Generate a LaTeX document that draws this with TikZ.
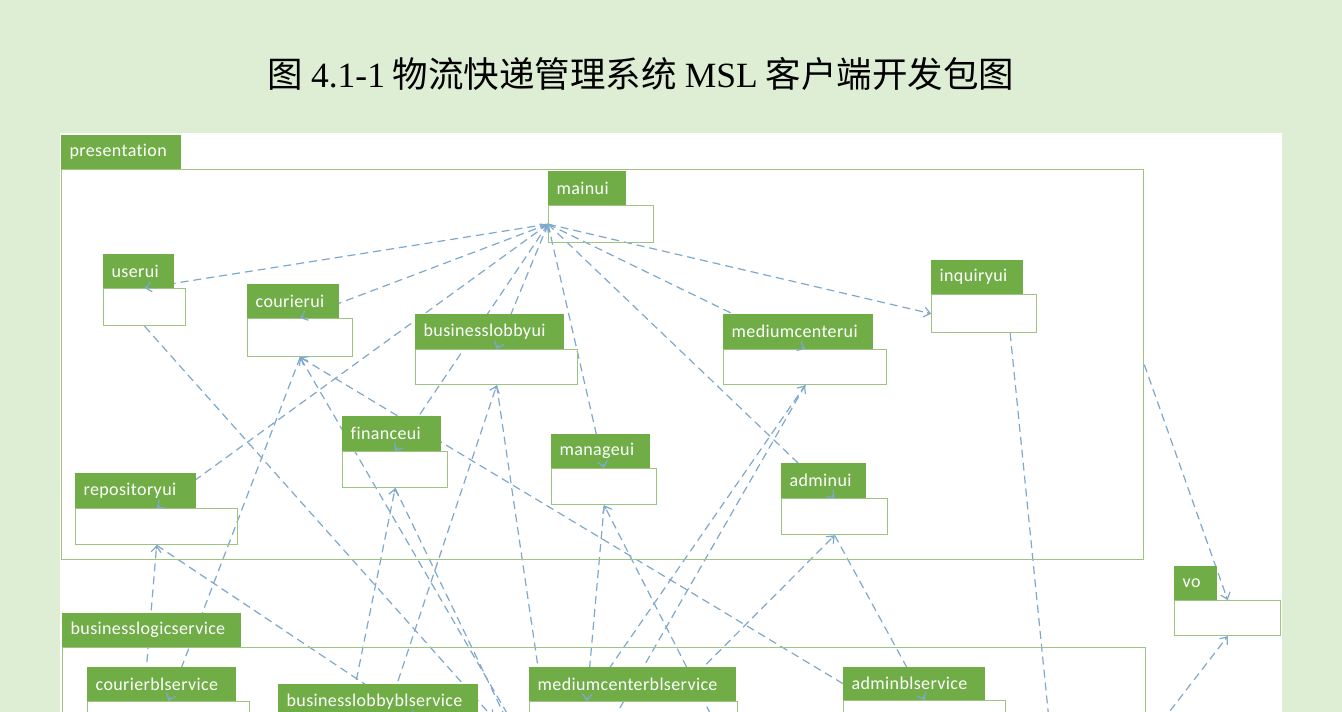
\documentclass[tikz,border=0pt]{standalone}
\usepackage{fontspec}
\setsansfont{Carlito}[Ligatures=NoCommon,LetterSpace=2]
\newfontfamily\cjk{Noto Sans CJK SC}
\newfontfamily\titlelatin{Liberation Serif}
\usetikzlibrary{calc,arrows.meta}
\pgfdeclarelayer{panel}
\pgfdeclarelayer{lines}
\pgfdeclarelayer{tips}
\pgfsetlayers{panel,lines,main,tips}
\definecolor{bggreen}{RGB}{222,238,213}
\definecolor{tabgreen}{RGB}{112,173,71}
\definecolor{boxgreen}{RGB}{158,197,128}
\definecolor{depblue}{RGB}{126,168,206}
\tikzset{
  tab/.style={fill=tabgreen, text=white, font=\sffamily\fontsize{18}{18}\selectfont,
    anchor=north west, inner xsep=9.5pt, inner ysep=0pt, align=left},
  pkgbox/.style={draw=boxgreen, line width=1.3pt, anchor=north west, inner sep=0pt},
  depline/.style={draw=depblue, line width=1.2pt, dash pattern=on 8pt off 5pt},
  deptip/.style={draw=depblue, line width=1.2pt, -{Straight Barb[length=6pt,width=10pt]}},
}
% name, label, x1, y1, tab right, tab bottom, box right, box bottom
\newcommand\umlpkg[8]{%
  \pgfmathsetmacro\pkgtw{#5-#3-17}%
  \pgfmathsetmacro\pkgth{#6-#4}%
  \pgfmathsetmacro\pkgbw{#7-#3}%
  \pgfmathsetmacro\pkgbh{#8-#6}%
  \node[tab, text width=\pkgtw pt, minimum height=\pkgth pt, inner xsep=8.5pt] (#1tab) at (#3,#4) {#2};
  \node[pkgbox, minimum width=\pkgbw pt, minimum height=\pkgbh pt] (#1) at (#3,#6) {};}
\newcommand\pkgdep[2]{%
  \begin{pgfonlayer}{lines}\draw[depline] (#1) -- (#2);\end{pgfonlayer}%
  \begin{pgfonlayer}{tips}\draw[deptip] ($(#2)!4pt!(#1)$) -- (#2);\end{pgfonlayer}}
\newcommand\pkgdepboth[2]{%
  \pkgdep{#1}{#2}%
  \begin{pgfonlayer}{tips}\draw[deptip] ($(#1)!4pt!(#2)$) -- (#1);\end{pgfonlayer}}
\newcommand\pkglink[2]{%
  \begin{pgfonlayer}{lines}\draw[depline] (#1) -- (#2);\end{pgfonlayer}}
\begin{document}
\begin{tikzpicture}[x=1pt,y=-1pt]
\useasboundingbox (0,0) rectangle (1342,712);
\begin{pgfonlayer}{panel}
  \fill[bggreen] (0,0) rectangle (1342,712);
  \fill[white] (60,133) rectangle (1282,712);
\end{pgfonlayer}

\node[font=\cjk\fontsize{35.5}{35.5}\selectfont] (title) at (641,74)
  {图 {\titlelatin 4.1-1} 物流快递管理系统 {\titlelatin MSL} 客户端开发包图};

% large packages
\umlpkg{pres}{presentation}{61}{135}{181}{169}{1143}{559}
\umlpkg{bls}{businesslogicservice}{62}{613}{241}{647}{1145}{835}

% packages
\umlpkg{mainui}{mainui}{548}{171}{626}{205}{653}{242}
\umlpkg{userui}{userui}{103}{254}{174}{288}{185}{325}
\umlpkg{courierui}{courierui}{247}{284}{339}{318}{352}{356}
\umlpkg{businesslobbyui}{businesslobbyui}{415}{314}{564}{349}{577}{384}
\umlpkg{mediumcenterui}{mediumcenterui}{723}{314}{873}{349}{886}{384}
\umlpkg{inquiryui}{inquiryui}{931}{260}{1023}{294}{1036}{332}
\umlpkg{financeui}{financeui}{342}{416}{441}{451}{447}{487}
\umlpkg{repositoryui}{repositoryui}{75}{473}{196}{508}{237}{544}
\umlpkg{manageui}{manageui}{551}{434}{650}{468}{656}{504}
\umlpkg{adminui}{adminui}{781}{463}{866}{498}{887}{534}
\umlpkg{vo}{vo}{1174}{566}{1217}{600}{1280}{635}
\umlpkg{courierbl}{courierblservice}{87}{667}{236}{701}{249}{738}
\umlpkg{businesslobbybl}{businesslobbyblservice}{278}{684}{478}{718}{492}{755}
\umlpkg{mediumcenterbl}{mediumcenterblservice}{529}{667}{736}{701}{737}{738}
\umlpkg{adminbl}{adminblservice}{843}{667}{985}{700}{1005}{737}

% connector ends
\coordinate (inqport) at ([xshift=26pt]inquiryui.south);
\coordinate (cblport) at ([xshift=-25pt]courierbl.north);
\coordinate (blportA) at ([xshift=-37pt]businesslobbybl.north);
\coordinate (blportB) at ([xshift=30pt]businesslobbybl.north);
\coordinate (mcblportA) at ([xshift=-47pt]mediumcenterbl.north);
\coordinate (mcblportB) at ([xshift=36pt]mediumcenterbl.north);
\coordinate (mcblportC) at ([xshift=9pt]mediumcenterbltab.north west);
\coordinate (offA) at (540,770);
\coordinate (offB) at (526,760);
\coordinate (offC) at (734,760);
\coordinate (offE) at (590,760);
\coordinate (offF) at (1053,760);

% from mainui
\pkgdep{mainui.west}{userui.north}
\pkgdep{mainui.west}{courierui.north}
\pkgdepboth{mainui.west}{repositoryui.north}
\pkgdepboth{mainui.west}{businesslobbyui.north}
\pkgdepboth{mainui.west}{financeui.north}
\pkgdep{mainui.west}{manageui.north}
\pkgdep{mainui.west}{adminui.north}
\pkgdep{mainui.west}{mediumcenterui.north}
\pkgdep{mainui.west}{inquiryui.west}

% between layers
\pkgdep{userui.south}{businesslobbybl.north east}
\pkgdep{courierui.south}{courierbl.north}
\pkgdep{adminbltab.west}{courierui.south}
\pkgdep{offA}{courierui.south}
\pkgdep{businesslobbybl.north}{businesslobbyui.south}
\pkglink{businesslobbyui.south}{mcblportC}
\pkgdep{blportA}{financeui.south}
\pkgdep{financeui.south}{offB}
\pkgdep{cblport}{repositoryui.south}
\pkgdep{repositoryui.south}{blportB}
\pkgdep{manageui.south}{mcblportA}
\pkgdep{offC}{manageui.south}
\pkgdep{mcblportB}{adminui.south}
\pkgdep{adminui.south}{adminbl.north}
\pkgdep{mcblportA}{mediumcenterui.south}
\pkgdep{mediumcenterui.south}{offE}
\pkgdep{inqport}{offF}
\pkgdep{pres.east}{vo.north}
\pkgdep{bls.east}{vo.south}
\end{tikzpicture}
\end{document}
